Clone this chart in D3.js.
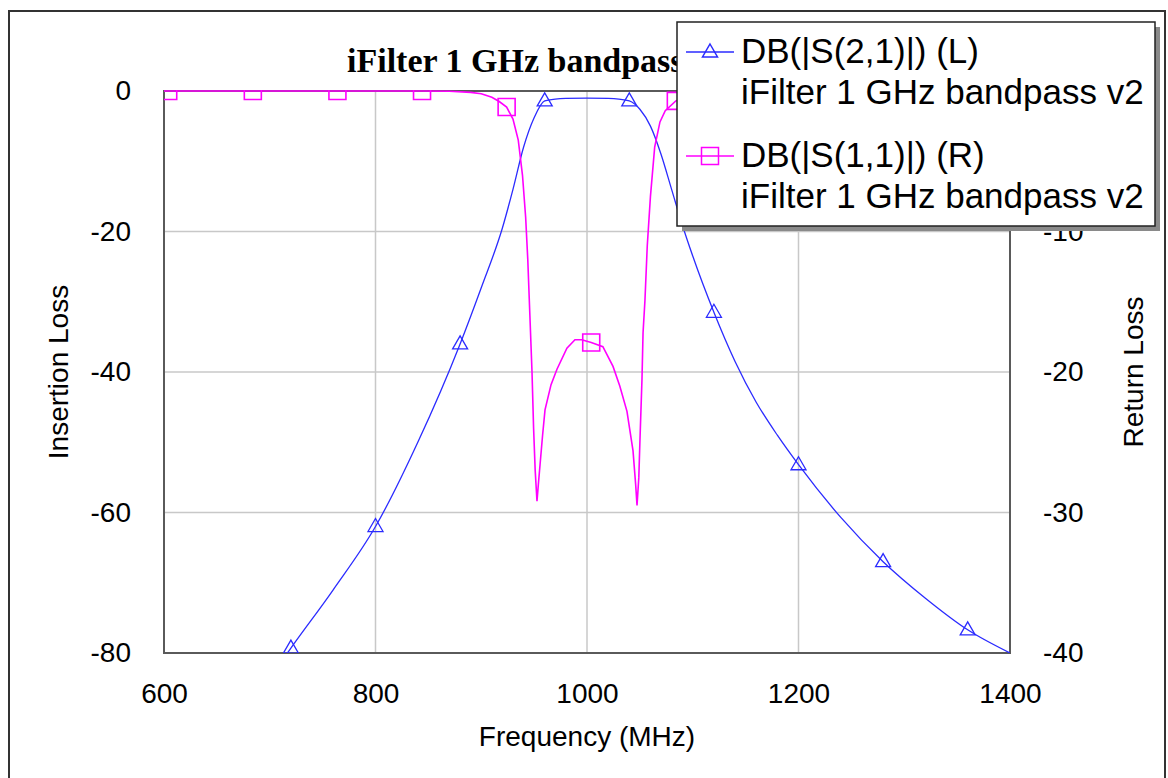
<!DOCTYPE html>
<html>
<head>
<meta charset="utf-8">
<script src="https://cdn.jsdelivr.net/npm/d3@7"></script>
<style>
  html, body { margin: 0; padding: 0; background: #fff; }
  svg { display: block; }
  text { font-family: Arial, "Liberation Sans", sans-serif; fill: #000; }
</style>
</head>
<body>
<svg id="chart" width="1168" height="778"></svg>
<script>
// ---------- data ----------
const titleText = "iFilter 1 GHz bandpass v2";
const xTicks = [600, 800, 1000, 1200, 1400];
const yLeftTicks = [0, -20, -40, -60, -80];
const yRightTicks = [-10, -20, -30, -40];   // the 0 label sits hidden under the legend

// S21 (insertion loss, left axis, dB)
const freqS21 = [600,640,680,720,760,800,840,880,900,920,930,940,950,960,970,980,1000,1020,1030,1040,1050,1060,1070,1080,1090,1100,1120,1140,1160,1180,1200,1240,1280,1320,1360,1400];
const s21 = [-106,-97,-88,-79.3,-71,-62,-50,-36,-28,-19.5,-14,-8,-3.8,-1.4,-1.15,-1.05,-1.0,-1.05,-1.15,-1.4,-2.6,-5,-9,-14,-19,-23.5,-31.5,-38.5,-44.3,-49,-53.2,-60.7,-67,-72.2,-76.7,-80];
const markersS21 = [720,800,880,960,1040,1120,1200,1280,1360];

// S11 (return loss, right axis, dB)
const freqS11 = [600,604,684,764,844,870,890,900,910,917,924,930,935,939,942,944,946,948,949.5,951,952.7,954,955.6,958,960.3,966,971.6,981,988.6,995,1004,1015,1024.6,1031,1037.8,1043.5,1046,1047.3,1049,1050.1,1052,1053,1054.8,1057,1060,1064,1069,1074,1084,1100,1164,1244,1324,1400];
const s11 = [0,0,0,0,0,-0.02,-0.1,-0.2,-0.45,-0.75,-1.14,-2.0,-3.5,-6,-9,-12,-16,-20,-24,-27,-29.2,-28,-26.6,-24.5,-22.7,-20.9,-19.8,-18.3,-17.7,-17.7,-17.9,-18.2,-19.6,-21,-22.8,-25.6,-28,-29.5,-27.5,-24.8,-20.5,-17.2,-14.9,-11,-7.5,-4,-2.2,-1.4,-0.7,-0.3,-0.02,0,0,0];
const markersS11 = [604,684,764,844,924,1004,1084,1164,1244,1324];

const legendItems = [
  { name: "DB(|S(2,1)|) (L)", sub: "iFilter 1 GHz bandpass v2", kind: "tri" },
  { name: "DB(|S(1,1)|) (R)", sub: "iFilter 1 GHz bandpass v2", kind: "sq" }
];

// ---------- layout ----------
const BLUE = "#2b2bff", MAG = "#ff00ff";
const plot = { left: 164, right: 1010, top: 91, bottom: 653 };

const svg = d3.select("#chart");

const x = d3.scaleLinear().domain([600, 1400]).range([plot.left, plot.right]);
const yL = d3.scaleLinear().domain([-80, 0]).range([plot.bottom, plot.top]);
const yR = d3.scaleLinear().domain([-40, 0]).range([plot.bottom, plot.top]);
const fmt = d => String(d);

// outer frame
svg.append("path")
  .attr("d", `M9,790 L9,11 L1165,11 L1165,790`)
  .attr("fill", "none").attr("stroke", "#333").attr("stroke-width", 2);

// title
svg.append("text")
  .attr("x", 347).attr("y", 72)
  .style("font-family", "'Liberation Serif', 'Times New Roman', serif")
  .style("font-weight", "bold").style("font-size", "34px")
  .text(titleText);

// grid
const grid = svg.append("g");
grid.selectAll("line.v").data(xTicks.slice(1, -1)).join("line")
  .attr("x1", d => x(d)).attr("x2", d => x(d))
  .attr("y1", plot.top).attr("y2", plot.bottom)
  .attr("stroke", "#c8c8c8").attr("stroke-width", 1.5);
grid.selectAll("line.h").data(yLeftTicks.slice(1, -1)).join("line")
  .attr("y1", d => yL(d)).attr("y2", d => yL(d))
  .attr("x1", plot.left).attr("x2", plot.right)
  .attr("stroke", "#c8c8c8").attr("stroke-width", 1.5);

// plot frame
svg.append("rect")
  .attr("x", plot.left).attr("y", plot.top)
  .attr("width", plot.right - plot.left).attr("height", plot.bottom - plot.top)
  .attr("fill", "none").attr("stroke", "#5a5a5a").attr("stroke-width", 2);

// axes
const axFont = g => g.selectAll("text").style("font-size", "28px").style("font-family", "Arial, 'Liberation Sans', sans-serif").attr("fill", "#000");
svg.append("g").attr("transform", `translate(${plot.left},0)`)
  .call(d3.axisLeft(yL).tickValues(yLeftTicks).tickSize(0).tickPadding(33).tickFormat(fmt))
  .call(g => g.select(".domain").remove())
  .call(axFont);
svg.append("g").attr("transform", `translate(${plot.right},0)`)
  .call(d3.axisRight(yR).tickValues(yRightTicks).tickSize(0).tickPadding(33).tickFormat(fmt))
  .call(g => g.select(".domain").remove())
  .call(axFont);
svg.append("g").attr("transform", `translate(0,${plot.bottom})`)
  .call(d3.axisBottom(x).tickValues(xTicks).tickSize(0).tickPadding(30).tickFormat(fmt))
  .call(g => g.select(".domain").remove())
  .call(axFont);

// axis titles
svg.append("text").attr("x", 587).attr("y", 746).attr("text-anchor", "middle")
  .style("font-size", "28px").text("Frequency (MHz)");
svg.append("text").attr("transform", `translate(68,372) rotate(-90)`).attr("text-anchor", "middle")
  .style("font-size", "28px").text("Insertion Loss");
svg.append("text").attr("transform", `translate(1143,372) rotate(-90)`).attr("text-anchor", "middle")
  .style("font-size", "28px").text("Return Loss");

// clip
svg.append("defs").append("clipPath").attr("id", "clip")
  .append("rect").attr("x", plot.left).attr("y", plot.top - 1)
  .attr("width", plot.right - plot.left).attr("height", plot.bottom - plot.top + 1);

const data21 = freqS21.map((f, i) => ({ f, v: s21[i] }));
const data11 = freqS11.map((f, i) => ({ f, v: s11[i] }));

const gPlot = svg.append("g").attr("clip-path", "url(#clip)");

const triPath = "M0,-8 L7.5,5 L-7.5,5 Z";
const sqPath = "M-8.5,-8.5 H8.5 V8.5 H-8.5 Z";

// S21
gPlot.append("path").datum(data21)
  .attr("d", d3.line().x(d => x(d.f)).y(d => yL(d.v)).curve(d3.curveMonotoneX))
  .attr("fill", "none").attr("stroke", BLUE).attr("stroke-width", 1.3);
gPlot.selectAll("path.m21").data(data21.filter(d => markersS21.includes(d.f))).join("path")
  .attr("transform", d => `translate(${x(d.f)},${yL(d.v)})`)
  .attr("d", triPath).attr("fill", "none").attr("stroke", BLUE).attr("stroke-width", 1.3);

// S11
gPlot.append("path").datum(data11)
  .attr("d", d3.line().x(d => x(d.f)).y(d => yR(d.v)).curve(d3.curveLinear))
  .attr("fill", "none").attr("stroke", MAG).attr("stroke-width", 1.6);
gPlot.selectAll("path.m11").data(data11.filter(d => markersS11.includes(d.f))).join("path")
  .attr("transform", d => `translate(${x(d.f)},${yR(d.v)})`)
  .attr("d", sqPath).attr("fill", "none").attr("stroke", MAG).attr("stroke-width", 1.6);

// legend
const lg = svg.append("g");
lg.append("rect").attr("x", 682).attr("y", 27).attr("width", 478).attr("height", 204).attr("fill", "#8a8a8a");
lg.append("rect").attr("x", 677).attr("y", 22).attr("width", 478).attr("height", 204)
  .attr("fill", "#fff").attr("stroke", "#222").attr("stroke-width", 1.5);
const rowY = [63, 167];
legendItems.forEach((it, i) => {
  const by = rowY[i];
  const color = it.kind === "tri" ? BLUE : MAG;
  const cy = by - 11;
  lg.append("line").attr("x1", 686).attr("x2", 734).attr("y1", cy).attr("y2", cy)
    .attr("stroke", color).attr("stroke-width", 1.5);
  lg.append("path").attr("transform", `translate(710,${cy})`)
    .attr("d", it.kind === "tri" ? triPath : sqPath)
    .attr("fill", "none").attr("stroke", color).attr("stroke-width", 1.5);
  lg.append("text").attr("x", 741).attr("y", by).style("font-size", "35px").text(it.name);
  lg.append("text").attr("x", 741).attr("y", by + 41).style("font-size", "35px").text(it.sub);
});
</script>
</body>
</html>
